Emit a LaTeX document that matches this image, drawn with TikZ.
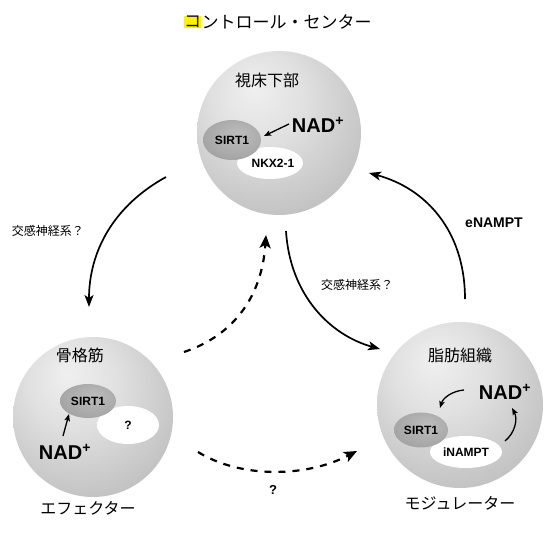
\documentclass[tikz,border=0pt]{standalone}
\usepackage{fontspec}
\setmainfont{Liberation Sans}
\newfontfamily\jp{Noto Sans CJK JP}
\usetikzlibrary{arrows.meta,shapes.geometric}
\pgfdeclareradialshading{spherebg}{\pgfpoint{-8bp}{14bp}}{color(0bp)=(gray!12); color(14bp)=(gray!24); color(30bp)=(gray!44); color(44bp)=(gray!62); color(56bp)=(gray!56); color(66bp)=(gray!30)}
\pgfdeclareradialshading{sirtshade}{\pgfpoint{6bp}{8bp}}{color(0bp)=(gray!52); color(25bp)=(gray!68); color(45bp)=(gray!84); color(60bp)=(gray!92)}
\pgfdeclareradialshading{whiteshade}{\pgfpoint{0bp}{0bp}}{color(0bp)=(white); color(38bp)=(white); color(50bp)=(gray!15)}
\begin{document}
\begin{tikzpicture}[x=1pt,y=-1pt,
  sphere/.style={circle,inner sep=0pt,shading=spherebg},
  sirt/.style={ellipse,inner sep=0pt,shading=sirtshade,font=\bfseries\fontsize{12}{12}\selectfont},
  wbox/.style={ellipse,inner sep=0pt,shading=whiteshade,font=\bfseries\fontsize{12}{12}\selectfont},
  jlab/.style={font=\jp\fontsize{16}{16}\selectfont},
  jsmall/.style={font=\jp\fontsize{12}{12}\selectfont},
  nad/.style={font=\bfseries\fontsize{20}{20}\selectfont,inner sep=1pt},
  conn/.style={line width=1.7pt,-{Stealth[length=12pt,width=9pt,inset=3pt]}},
  dconn/.style={line width=2.2pt,dash pattern=on 7pt off 7pt,-{Stealth[length=13pt,width=11pt,inset=3pt]}},
  small/.style={line width=1.3pt,-{Stealth[length=7pt,width=5.5pt,inset=1.5pt]}}]
\useasboundingbox (0,0) rectangle (558,540);
% title
\node[font=\jp\fontsize{17}{17}\selectfont,inner sep=0pt,fill=yellow,text=blue!30!black,anchor=west] (tko) at (184,22) {コ};
\node[font=\jp\fontsize{17}{17}\selectfont,inner sep=0pt,anchor=west] (title) at (tko.east) {ントロール・センター};
% spheres
\node[sphere,minimum size=164pt] (hyp) at (279,133) {};
\node[sphere,minimum size=160pt] (mus) at (93,417) {};
\node[sphere,minimum size=166pt] (fat) at (460,405) {};
% hypothalamus contents
\node[jlab] (hyplab) at (267,80) {視床下部};
\node[wbox,minimum width=66pt,minimum height=32pt] (nkx) at (270,163) {};
\node[font=\bfseries\fontsize{12}{12}\selectfont] (nkxt) at (273,163) {NKX2-1};
\node[sirt,minimum width=58pt,minimum height=40pt] (sirtA) at (232,140) {SIRT1};
\node[nad] (nadA) at (318,125) {NAD\textsuperscript{+}};
\coordinate (nadAs) at (289,124);
\coordinate (nadAe) at (264,136);
\draw[small] (nadAs) -- (nadAe);
% muscle contents
\node[jlab] (muslab) at (80,355) {骨格筋};
\node[wbox,minimum width=62pt,minimum height=38pt] (q) at (128,425) {?};
\node[sirt,minimum width=56pt,minimum height=34pt] (sirtB) at (88,401) {SIRT1};
\node[nad] (nadB) at (65,452) {NAD\textsuperscript{+}};
\coordinate (nadBs) at (63,436);
\coordinate (nadBe) at (69,414);
\draw[small] (nadBs) -- (nadBe);
\node[jlab] (eff) at (88,508) {エフェクター};
% adipose contents
\node[jlab] (fatlab) at (460,355) {脂肪組織};
\node[wbox,minimum width=72pt,minimum height=32pt] (inampt) at (466,452) {iNAMPT};
\node[sirt,minimum width=54pt,minimum height=35pt] (sirtC) at (421,430) {SIRT1};
\node[nad] (nadC) at (505,392) {NAD\textsuperscript{+}};
\coordinate (c1s) at (464,390);
\coordinate (c1e) at (440,408);
\draw[small] (c1s) .. controls (452,391) and (443,398) .. (c1e);
\coordinate (c2s) at (505,441);
\coordinate (c2e) at (512,408);
\draw[small] (c2s) .. controls (515,433) and (518,419) .. (c2e);
\node[jlab] (mod) at (460,503) {モジュレーター};
% connectors
\coordinate (a1s) at (166,177);
\coordinate (a1e) at (89,307);
\draw[conn] (a1s) .. controls (115,205) and (89,250) .. (a1e);
\node[jsmall] (l1) at (48,231) {交感神経系？};
\coordinate (a2s) at (286,231);
\coordinate (a2e) at (380,349);
\draw[conn] (a2s) .. controls (290,295) and (330,335) .. (a2e);
\node[jsmall] (l2) at (357,285) {交感神経系？};
\coordinate (a3s) at (465,299);
\coordinate (a3e) at (369,173);
\draw[conn] (a3s) .. controls (465,230) and (425,188) .. (a3e);
\node[font=\bfseries\fontsize{14}{14}\selectfont] (l3) at (494,223) {eNAMPT};
\coordinate (d1s) at (184,352);
\coordinate (d1e) at (266,235);
\draw[dconn] (d1s) .. controls (235,335) and (262,295) .. (d1e);
\coordinate (d2s) at (198,452);
\coordinate (d2e) at (357,451);
\draw[dconn] (d2s) .. controls (240,478) and (305,478) .. (d2e);
\node[font=\bfseries\fontsize{13}{13}\selectfont] (l4) at (273,490) {?};
\end{tikzpicture}
\end{document}
